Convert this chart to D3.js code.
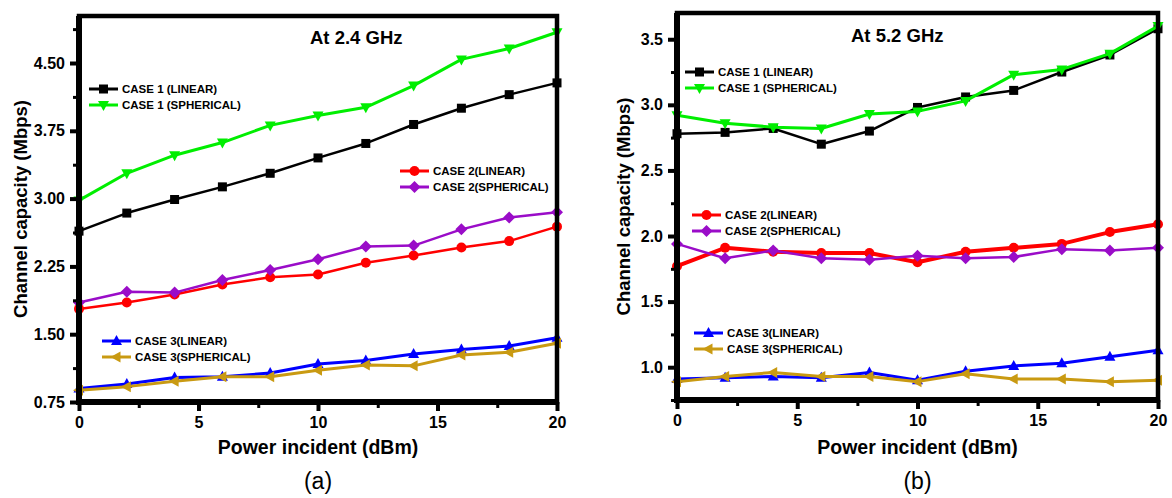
<!DOCTYPE html>
<html>
<head>
<meta charset="utf-8">
<script src="https://cdn.jsdelivr.net/npm/d3@7"></script>
<style>
  body { margin: 0; background: #fff; }
  svg { display: block; }
  text { font-family: Arial, "Liberation Sans", sans-serif; }
</style>
</head>
<body>
<svg id="chart" width="1172" height="498"></svg>
<script>
// x values (Power incident, dBm)
const power = [0, 2, 4, 6, 8, 10, 12, 14, 16, 18, 20]

// series names
const seriesNames = ['CASE 1 (LINEAR)', 'CASE 1 (SPHERICAL)', 'CASE 2(LINEAR)', 'CASE 2(SPHERICAL)', 'CASE 3(LINEAR)', 'CASE 3(SPHERICAL)']

// (a) At 2.4 GHz
const a_case1Linear    = [2.64, 2.84, 2.99, 3.13, 3.28, 3.45, 3.61, 3.82, 4.00, 4.15, 4.28]
const a_case1Spherical = [2.98, 3.28, 3.48, 3.62, 3.81, 3.92, 4.01, 4.25, 4.54, 4.66, 4.84]
const a_case2Linear    = [1.78, 1.85, 1.94, 2.05, 2.13, 2.16, 2.29, 2.37, 2.46, 2.53, 2.69]
const a_case2Spherical = [1.85, 1.97, 1.96, 2.10, 2.21, 2.33, 2.47, 2.48, 2.66, 2.79, 2.85]
const a_case3Linear    = [0.90, 0.95, 1.02, 1.03, 1.07, 1.17, 1.21, 1.28, 1.33, 1.37, 1.46]
const a_case3Spherical = [0.88, 0.92, 0.98, 1.03, 1.03, 1.10, 1.16, 1.15, 1.27, 1.30, 1.40]

// (b) At 5.2 GHz
const b_case1Linear    = [2.78, 2.79, 2.82, 2.70, 2.80, 2.98, 3.06, 3.11, 3.25, 3.38, 3.58]
const b_case1Spherical = [2.92, 2.86, 2.83, 2.82, 2.93, 2.95, 3.03, 3.23, 3.27, 3.39, 3.60]
const b_case2Linear    = [1.77, 1.91, 1.88, 1.87, 1.87, 1.80, 1.88, 1.91, 1.94, 2.03, 2.09]
const b_case2Spherical = [1.94, 1.83, 1.89, 1.83, 1.82, 1.85, 1.83, 1.84, 1.90, 1.89, 1.91]
const b_case3Linear    = [0.91, 0.92, 0.93, 0.92, 0.96, 0.90, 0.97, 1.01, 1.03, 1.08, 1.13]
const b_case3Spherical = [0.89, 0.93, 0.96, 0.93, 0.93, 0.89, 0.95, 0.91, 0.91, 0.89, 0.90]

// tick labels
const xTicks = [0, 5, 10, 15, 20]
const xMinor = [2.5, 7.5, 12.5, 17.5]
const a_yTicks = [0.75, 1.50, 2.25, 3.00, 3.75, 4.50]
const a_yMinor = [1.125, 1.875, 2.625, 3.375, 4.125, 4.875]
const b_yTicks = [1.0, 1.5, 2.0, 2.5, 3.0, 3.5]
const b_yMinor = [0.75, 1.25, 1.75, 2.25, 2.75, 3.25]

// styles for each series (colour, marker)
const styles = [
    { color: '#000000', shape: 'square' },
    { color: '#00ee00', shape: 'triDown' },
    { color: '#ff0000', shape: 'circle' },
    { color: '#9a0cc8', shape: 'diamond' },
    { color: '#0000ff', shape: 'triUp' },
    { color: '#c99a12', shape: 'triLeft' }
]

const svg = d3.select('#chart')

// draw one marker shape
function marker(g, shape, color) {
    if (shape == 'square') {
        g.append('rect').attr('x', -4.5).attr('y', -4.5).attr('width', 9).attr('height', 9).attr('fill', color)
    } else if (shape == 'circle') {
        g.append('circle').attr('r', 5).attr('fill', color)
    } else if (shape == 'diamond') {
        g.append('path').attr('d', 'M0,-6L6,0L0,6L-6,0Z').attr('fill', color)
    } else if (shape == 'triUp') {
        g.append('path').attr('d', 'M0,-6L5.5,4L-5.5,4Z').attr('fill', color)
    } else if (shape == 'triDown') {
        g.append('path').attr('d', 'M0,6L5.5,-4L-5.5,-4Z').attr('fill', color)
    } else if (shape == 'triLeft') {
        g.append('path').attr('d', 'M-6,0L4,-5.5L4,5.5Z').attr('fill', color)
    }
}

function drawPanel(p) {
    const x = d3.scaleLinear().domain([0, 20]).range([p.left, p.right])
    const y = d3.scaleLinear().domain(p.yDomain).range([p.bottom, p.top])

    const g = svg.append('g')

    // lines + markers
    p.series.forEach((vals, i) => {
        const st = styles[i]
        const pts = power.map((d, j) => [d, vals[j]])
        g.append('path')
            .datum(pts)
            .attr('fill', 'none')
            .attr('stroke', st.color)
            .attr('stroke-width', p.widths[i])
            .attr('stroke-linejoin', 'round')
            .attr('d', d3.line().x(d => x(d[0])).y(d => y(d[1])))
        g.selectAll(null)
            .data(pts)
            .enter()
            .append('g')
            .attr('transform', d => `translate(${x(d[0])},${y(d[1])})`)
            .each(function() { marker(d3.select(this), st.shape, st.color) })
    })

    // frame (top / right thinner, left / bottom axes thicker)
    g.append('rect')
        .attr('x', p.left).attr('y', p.top)
        .attr('width', p.right - p.left).attr('height', p.bottom - p.top)
        .attr('fill', 'none').attr('stroke', '#000').attr('stroke-width', 4.5)
    g.append('path')
        .attr('d', `M${p.left},${p.top}V${p.bottom}H${p.right}`)
        .attr('fill', 'none').attr('stroke', '#000').attr('stroke-width', 6)

    // x axis
    const xa = g.append('g')
        .attr('transform', `translate(0,${p.bottom})`)
        .call(d3.axisBottom(x).tickValues(xTicks).tickSize(9).tickPadding(6).tickFormat(d3.format('d')))
    const xm = g.append('g')
        .attr('transform', `translate(0,${p.bottom})`)
        .call(d3.axisBottom(x).tickValues(xMinor).tickSize(6).tickFormat(''))

    // y axis
    const ya = g.append('g')
        .attr('transform', `translate(${p.left},0)`)
        .call(d3.axisLeft(y).tickValues(p.yTicks).tickSize(9).tickPadding(5).tickFormat(d3.format(p.yFormat)))
    const ym = g.append('g')
        .attr('transform', `translate(${p.left},0)`)
        .call(d3.axisLeft(y).tickValues(p.yMinor).tickSize(6).tickFormat(''))

    ;[xa, xm, ya, ym].forEach(a => {
        a.select('.domain').remove()
        a.selectAll('line').attr('stroke', '#000').attr('stroke-width', 4)
        a.selectAll('text').attr('font-size', 16).attr('font-weight', 'bold').attr('fill', '#000')
    })
    ;[xm, ym].forEach(a => a.selectAll('line').attr('stroke-width', 3))

    // title
    g.append('text')
        .attr('x', p.titleX).attr('y', p.titleY)
        .attr('font-size', 18.5).attr('font-weight', 'bold')
        .text(p.title)

    // axis labels
    const cx = (p.left + p.right) / 2
    g.append('text')
        .attr('x', cx).attr('y', 454)
        .attr('text-anchor', 'middle')
        .attr('font-size', 19.5).attr('font-weight', 'bold')
        .text('Power incident (dBm)')
    g.append('text')
        .attr('transform', `translate(${p.yLabelX},${(p.top + p.bottom) / 2}) rotate(-90)`)
        .attr('text-anchor', 'middle')
        .attr('font-size', 18.5).attr('font-weight', 'bold')
        .text('Channel capacity (Mbps)')
    g.append('text')
        .attr('x', cx).attr('y', 489)
        .attr('text-anchor', 'middle')
        .attr('font-size', 23)
        .attr('font-family', '"Liberation Serif", "Times New Roman", serif')
        .text(p.label)

    // legends (pairs)
    p.legends.forEach((lg, k) => {
        [0, 1].forEach(r => {
            const i = k * 2 + r
            const ly = lg.y + r * 16
            g.append('line')
                .attr('x1', lg.x).attr('x2', lg.x + 29)
                .attr('y1', ly).attr('y2', ly)
                .attr('stroke', styles[i].color).attr('stroke-width', 3)
            const mg = g.append('g').attr('transform', `translate(${lg.x + 14.5},${ly})`)
            marker(mg, styles[i].shape, styles[i].color)
            g.append('text')
                .attr('x', lg.x + 33).attr('y', ly + 4)
                .attr('font-size', 11.5).attr('font-weight', 'bold')
                .text(seriesNames[i])
        })
    })
}

drawPanel({
    left: 79, right: 557, top: 16, bottom: 402,
    yDomain: [0.75, 5.02],
    yTicks: a_yTicks, yMinor: a_yMinor, yFormat: '.2f',
    series: [a_case1Linear, a_case1Spherical, a_case2Linear, a_case2Spherical, a_case3Linear, a_case3Spherical],
    widths: [2.5, 3, 2.5, 2.5, 3, 3],
    title: 'At 2.4 GHz', titleX: 310, titleY: 44,
    yLabelX: 27, label: '(a)',
    legends: [{ x: 89, y: 89 }, { x: 400, y: 171 }, { x: 102, y: 341 }]
})

drawPanel({
    left: 677, right: 1158, top: 13, bottom: 400,
    yDomain: [0.75, 3.7],
    yTicks: b_yTicks, yMinor: b_yMinor, yFormat: '.1f',
    series: [b_case1Linear, b_case1Spherical, b_case2Linear, b_case2Spherical, b_case3Linear, b_case3Spherical],
    widths: [2.5, 3, 4, 2.5, 3, 3],
    title: 'At 5.2 GHz', titleX: 851, titleY: 42,
    yLabelX: 630, label: '(b)',
    legends: [{ x: 685, y: 72 }, { x: 692, y: 215 }, { x: 694, y: 333 }]
})
</script>
</body>
</html>
